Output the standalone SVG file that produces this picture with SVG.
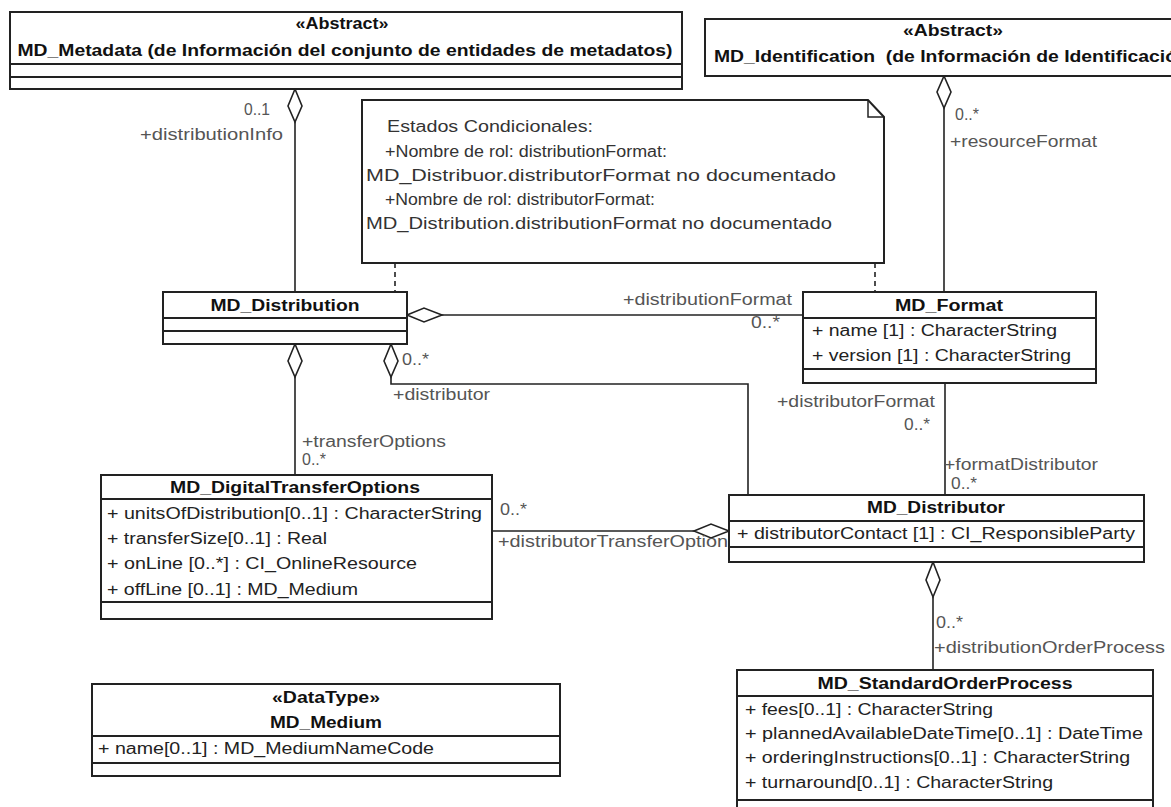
<svg xmlns="http://www.w3.org/2000/svg" width="1171" height="807" viewBox="0 0 1171 807">
<style>
.box{fill:#fff;stroke:#222;stroke-width:2}
.sep{stroke:#222;stroke-width:2;fill:none}
.t{font-family:"Liberation Sans",Arial,sans-serif;font-size:16px;fill:#222}
.b{font-weight:bold;fill:#111}
.m{text-anchor:middle}
.lbl{fill:#555}
.note{font-size:16px;fill:#333}
.ln{stroke:#222;stroke-width:1.6;fill:none}
.dash{stroke-dasharray:5,4}
.dia{fill:#fff;stroke:#222;stroke-width:1.6}
</style>
<rect width="1171" height="807" fill="#fff"/>

<g id="connectors">
  <polygon class="dia" points="295,89 302,106 295,122 288,106"/>
  <path class="ln" d="M295,122 V292"/>
  <polygon class="dia" points="944,76 951,92 944,108 937,92"/>
  <path class="ln" d="M944,108 V292"/>
  <polygon class="dia" points="407,315 424,308 442,315 424,322"/>
  <path class="ln" d="M442,315 H803"/>
  <polygon class="dia" points="295,344 302,361 295,377 288,361"/>
  <path class="ln" d="M295,377 V475"/>
  <polygon class="dia" points="391,344 398,361 391,377 384,361"/>
  <path class="ln" d="M391,377 V384 H748 V495"/>
  <path class="ln" d="M945,383 V495"/>
  <path class="ln" d="M492,531 H694"/>
  <polygon class="dia" points="694,531 711,524 729,531 711,538"/>
  <polygon class="dia" points="933,562 940,580 933,597 926,580"/>
  <path class="ln" d="M933,597 V670"/>
  <path class="ln dash" d="M395,263 V292"/>
  <path class="ln dash" d="M875,263 V292"/>
  <g class="t lbl">
    <text x="270" y="115" text-anchor="end" textLength="26" lengthAdjust="spacingAndGlyphs">0..1</text>
    <text x="283" y="140" text-anchor="end" textLength="143" lengthAdjust="spacingAndGlyphs">+distributionInfo</text>
    <text x="955" y="120" textLength="24" lengthAdjust="spacingAndGlyphs">0..*</text>
    <text x="950" y="147" textLength="147" lengthAdjust="spacingAndGlyphs">+resourceFormat</text>
    <text x="792" y="305" text-anchor="end" textLength="169" lengthAdjust="spacingAndGlyphs">+distributionFormat</text>
    <text x="780" y="328" text-anchor="end" textLength="29" lengthAdjust="spacingAndGlyphs">0..*</text>
    <text x="402" y="365" textLength="27" lengthAdjust="spacingAndGlyphs">0..*</text>
    <text x="393" y="400" textLength="97" lengthAdjust="spacingAndGlyphs">+distributor</text>
    <text x="302" y="447" textLength="144" lengthAdjust="spacingAndGlyphs">+transferOptions</text>
    <text x="302" y="465" textLength="24" lengthAdjust="spacingAndGlyphs">0..*</text>
    <text x="935" y="407" text-anchor="end" textLength="158" lengthAdjust="spacingAndGlyphs">+distributorFormat</text>
    <text x="930" y="430" text-anchor="end" textLength="26" lengthAdjust="spacingAndGlyphs">0..*</text>
    <text x="944" y="470" textLength="154" lengthAdjust="spacingAndGlyphs">+formatDistributor</text>
    <text x="951" y="489" textLength="26" lengthAdjust="spacingAndGlyphs">0..*</text>
    <text x="500" y="515" textLength="27" lengthAdjust="spacingAndGlyphs">0..*</text>
    <text x="498" y="547" textLength="230" lengthAdjust="spacingAndGlyphs">+distributorTransferOption</text>
    <text x="936" y="628" textLength="27" lengthAdjust="spacingAndGlyphs">0..*</text>
    <text x="934" y="653" textLength="231" lengthAdjust="spacingAndGlyphs">+distributionOrderProcess</text>
  </g>
</g>

<g id="md-metadata">
  <rect class="box" x="10" y="12" width="672" height="77"/>
  <path class="sep" d="M10,64 H682 M10,77 H682"/>
  <text class="t b m" x="342" y="29" textLength="93" lengthAdjust="spacingAndGlyphs">«Abstract»</text>
  <text class="t b m" x="345" y="56" textLength="655" lengthAdjust="spacingAndGlyphs">MD_Metadata (de Información del conjunto de entidades de metadatos)</text>
</g>

<g id="md-identification">
  <rect class="box" x="705" y="19" width="500" height="57"/>
  <text class="t b m" x="953" y="36" textLength="100" lengthAdjust="spacingAndGlyphs">«Abstract»</text>
  <text class="t b" x="714" y="62" xml:space="preserve" textLength="463" lengthAdjust="spacingAndGlyphs">MD_Identification  (de Información de Identificació</text>
</g>

<g id="note">
  <path class="box" d="M362,100 H868 L884,117 V263 H362 Z"/>
  <path class="sep" d="M868,100 V117 H884" style="stroke-width:1.5"/>
  <g class="t note">
    <text x="387" y="132" textLength="206" lengthAdjust="spacingAndGlyphs">Estados Condicionales:</text>
    <text x="385" y="157" textLength="282" lengthAdjust="spacingAndGlyphs">+Nombre de rol: distributionFormat:</text>
    <text x="366" y="181" textLength="470" lengthAdjust="spacingAndGlyphs">MD_Distribuor.distributorFormat no documentado</text>
    <text x="385" y="205" textLength="270" lengthAdjust="spacingAndGlyphs">+Nombre de rol: distributorFormat:</text>
    <text x="366" y="229" textLength="466" lengthAdjust="spacingAndGlyphs">MD_Distribution.distributionFormat no documentado</text>
  </g>
</g>

<g id="md-distribution">
  <rect class="box" x="163" y="292" width="244" height="52"/>
  <path class="sep" d="M163,318 H407 M163,331 H407"/>
  <text class="t b m" x="285" y="311" textLength="149" lengthAdjust="spacingAndGlyphs">MD_Distribution</text>
</g>

<g id="md-format">
  <rect class="box" x="803" y="292" width="293" height="91"/>
  <path class="sep" d="M803,318 H1096 M803,369 H1096"/>
  <text class="t b m" x="949" y="311" textLength="108" lengthAdjust="spacingAndGlyphs">MD_Format</text>
  <text class="t" x="812" y="336" textLength="245" lengthAdjust="spacingAndGlyphs">+ name [1] : CharacterString</text>
  <text class="t" x="812" y="361" textLength="259" lengthAdjust="spacingAndGlyphs">+ version [1] : CharacterString</text>
</g>

<g id="md-digitaltransferoptions">
  <rect class="box" x="101" y="475" width="391" height="144"/>
  <path class="sep" d="M101,499 H492 M101,602 H492"/>
  <text class="t b m" x="295" y="493" textLength="250" lengthAdjust="spacingAndGlyphs">MD_DigitalTransferOptions</text>
  <text class="t" x="107" y="519" textLength="375" lengthAdjust="spacingAndGlyphs">+ unitsOfDistribution[0..1] : CharacterString</text>
  <text class="t" x="107" y="544" textLength="220" lengthAdjust="spacingAndGlyphs">+ transferSize[0..1] : Real</text>
  <text class="t" x="107" y="569" textLength="310" lengthAdjust="spacingAndGlyphs">+ onLine [0..*] : CI_OnlineResource</text>
  <text class="t" x="107" y="595" textLength="251" lengthAdjust="spacingAndGlyphs">+ offLine [0..1] : MD_Medium</text>
</g>

<g id="md-distributor">
  <rect class="box" x="729" y="495" width="415" height="67"/>
  <path class="sep" d="M729,521 H1144 M729,547 H1144"/>
  <text class="t b m" x="936" y="513" textLength="138" lengthAdjust="spacingAndGlyphs">MD_Distributor</text>
  <text class="t" x="737" y="539" textLength="398" lengthAdjust="spacingAndGlyphs">+ distributorContact [1] : CI_ResponsibleParty</text>
</g>

<g id="md-standardorderprocess">
  <rect class="box" x="737" y="670" width="416" height="150"/>
  <path class="sep" d="M737,696 H1153 M737,800 H1153"/>
  <text class="t b m" x="945" y="689" textLength="255" lengthAdjust="spacingAndGlyphs">MD_StandardOrderProcess</text>
  <text class="t" x="745" y="715" textLength="248" lengthAdjust="spacingAndGlyphs">+ fees[0..1] : CharacterString</text>
  <text class="t" x="745" y="739" textLength="398" lengthAdjust="spacingAndGlyphs">+ plannedAvailableDateTime[0..1] : DateTime</text>
  <text class="t" x="745" y="763" textLength="385" lengthAdjust="spacingAndGlyphs">+ orderingInstructions[0..1] : CharacterString</text>
  <text class="t" x="745" y="788" textLength="308" lengthAdjust="spacingAndGlyphs">+ turnaround[0..1] : CharacterString</text>
</g>

<g id="md-medium">
  <rect class="box" x="92" y="684" width="468" height="92"/>
  <path class="sep" d="M92,736 H560 M92,763 H560"/>
  <text class="t b m" x="326" y="703" textLength="108" lengthAdjust="spacingAndGlyphs">«DataType»</text>
  <text class="t b m" x="326" y="728" textLength="112" lengthAdjust="spacingAndGlyphs">MD_Medium</text>
  <text class="t" x="98" y="754" textLength="336" lengthAdjust="spacingAndGlyphs">+ name[0..1] : MD_MediumNameCode</text>
</g>
</svg>
